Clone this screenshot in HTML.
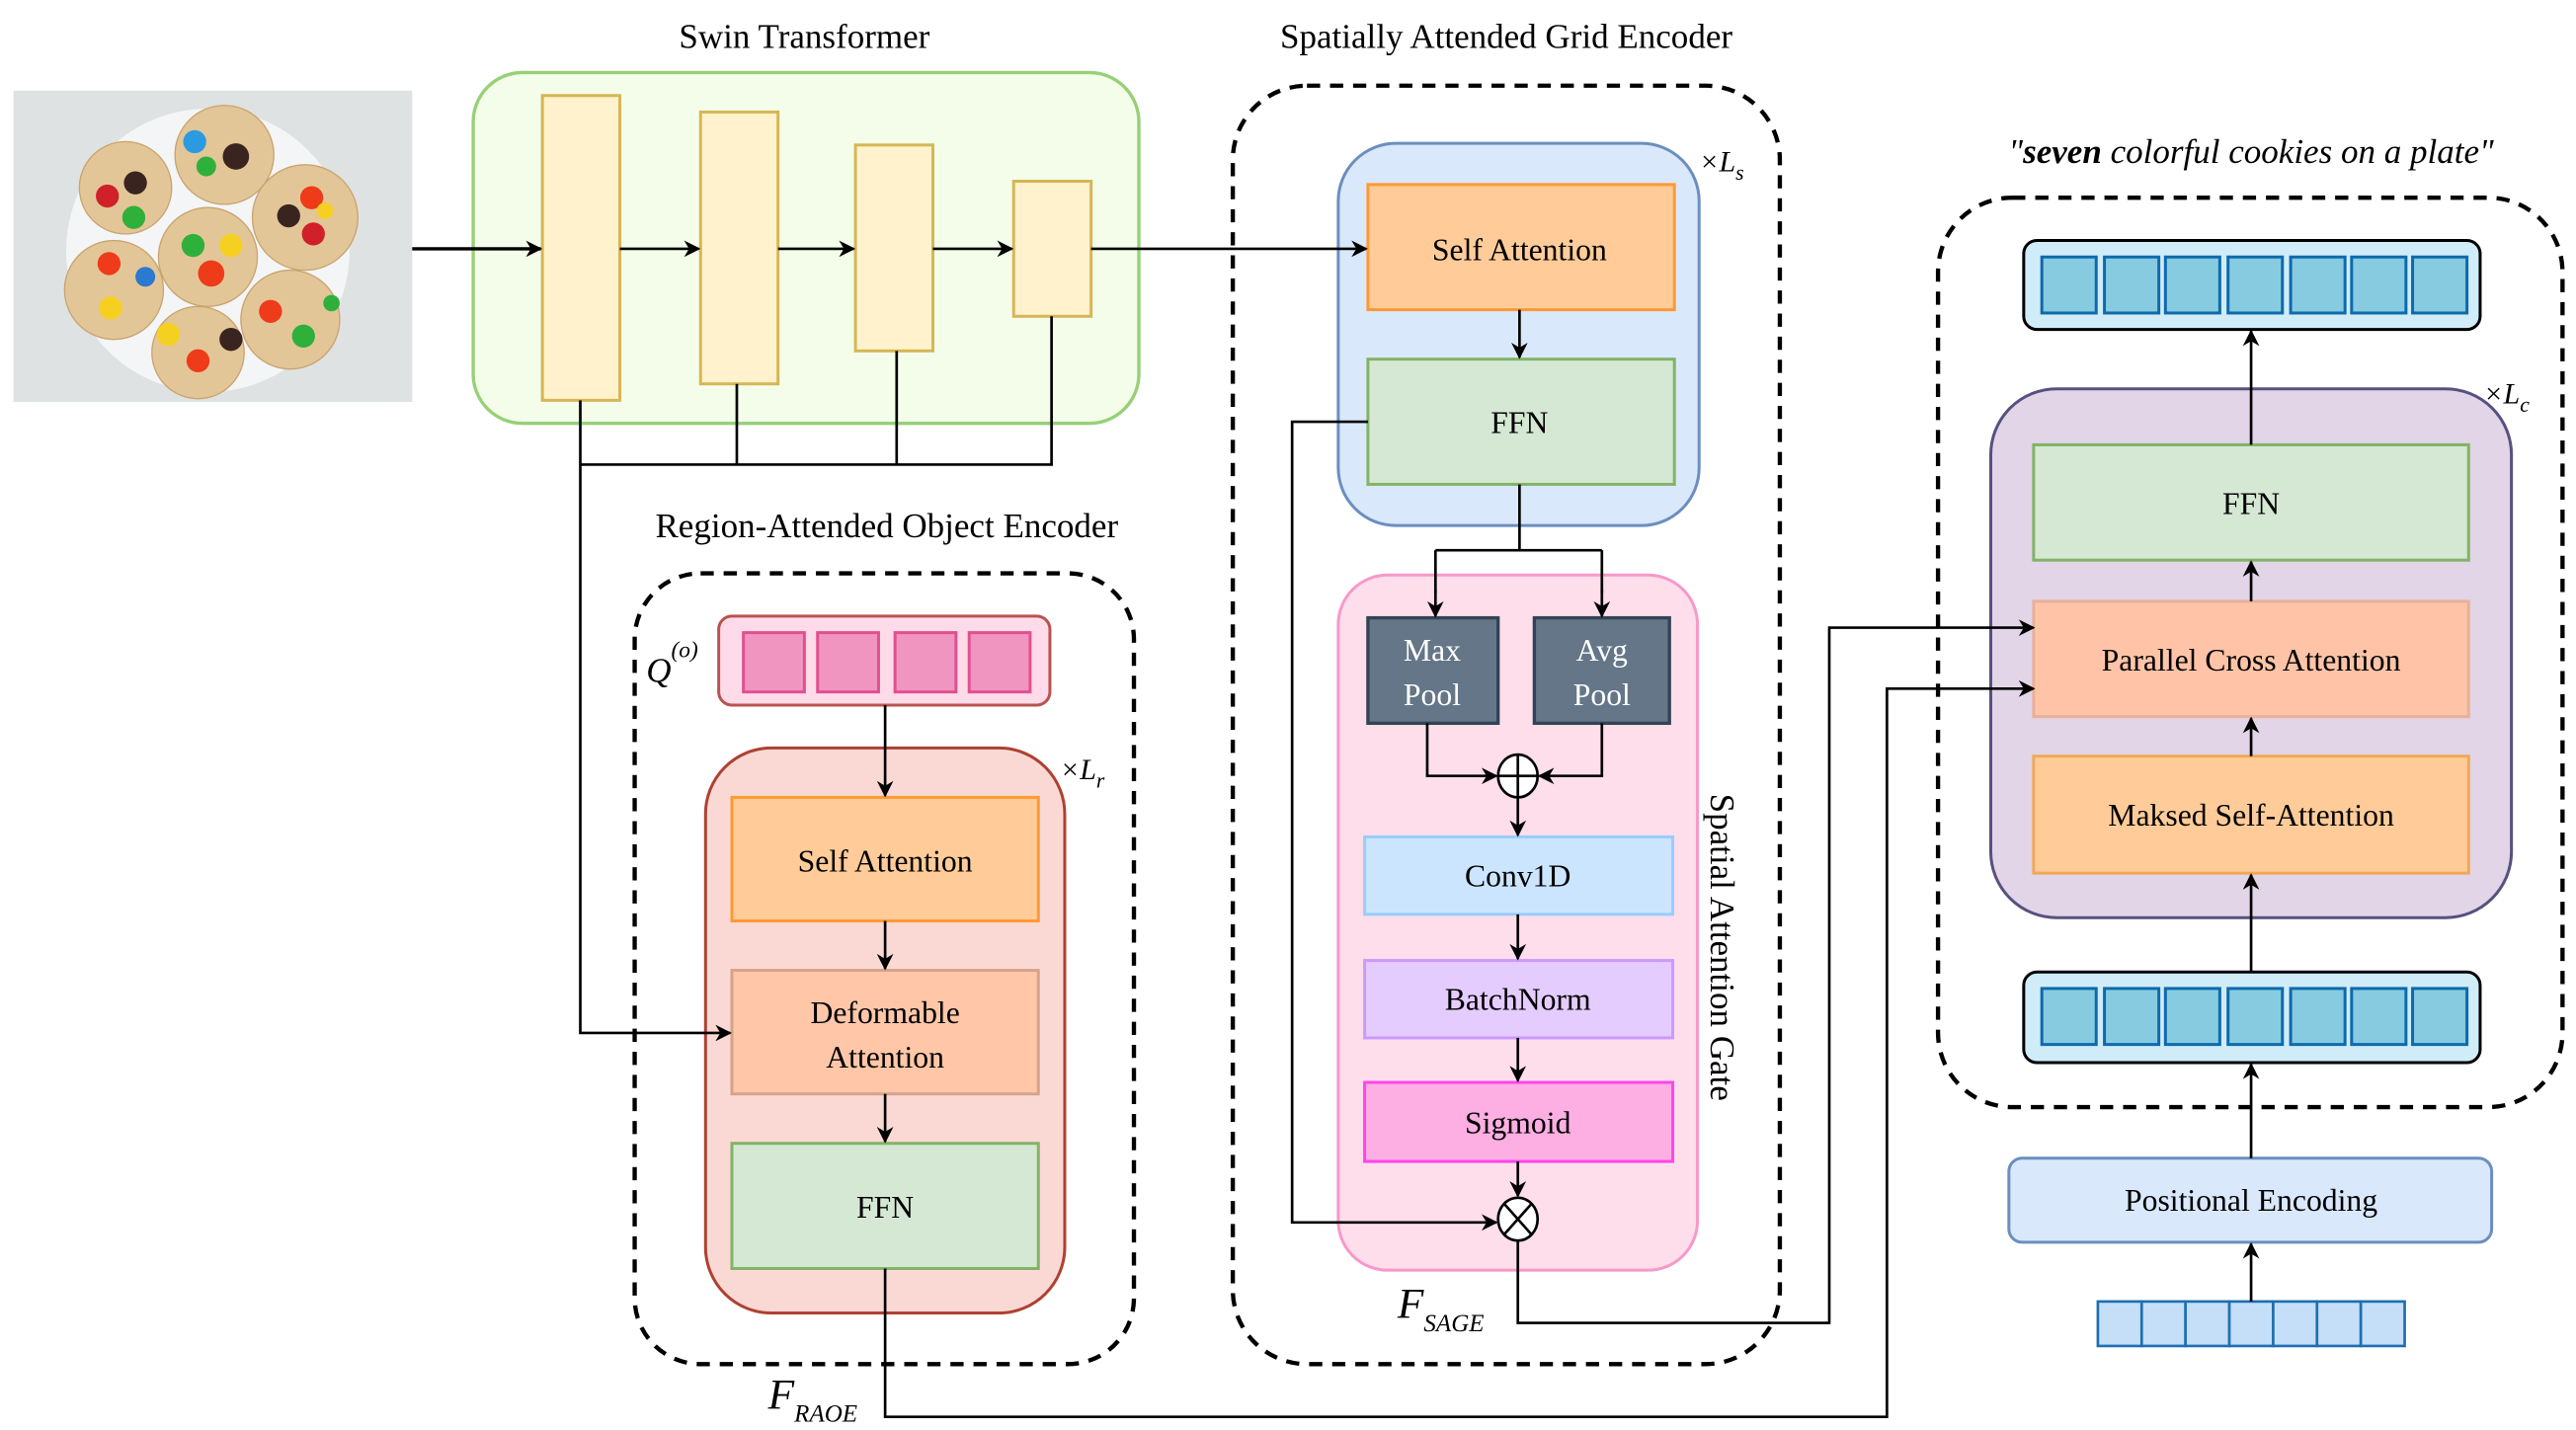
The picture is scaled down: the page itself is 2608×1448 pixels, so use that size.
<!DOCTYPE html>
<html><head><meta charset="utf-8"><style>html,body{margin:0;padding:0;background:#fff;}svg{display:block;}svg text{font-family:"Liberation Serif","DejaVu Serif",serif;}</style></head>
<body>
<svg xmlns="http://www.w3.org/2000/svg" width="2608" height="1448" viewBox="0 0 1563 868">
<defs>
<marker id="a" viewBox="0 0 10 10" refX="9" refY="5" markerWidth="10" markerHeight="10" markerUnits="userSpaceOnUse" orient="auto"><path d="M0,0 L10,5 L0,10 L3,5 Z" fill="#000" stroke="none"/></marker>
</defs>
<rect width="1563" height="868" fill="#fff"/>
<!-- image -->
<rect x="8" y="55" width="242" height="189" fill="#dfe2e3"/>
<circle cx="126" cy="152" r="86" fill="#f4f5f6"/>
<g fill="#e3c697" stroke="#c9a46e" stroke-width="0.8">
<circle cx="76" cy="114" r="28"/><circle cx="136" cy="94" r="30"/><circle cx="185" cy="132" r="32"/><circle cx="126" cy="156" r="30"/><circle cx="69" cy="176" r="30"/><circle cx="120" cy="214" r="28"/><circle cx="176" cy="194" r="30"/></g>
<g>
<circle cx="118" cy="86" r="7" fill="#2a9be0"/><circle cx="143" cy="95" r="8" fill="#3a2420"/><circle cx="125" cy="101" r="6" fill="#2fb03a"/>
<circle cx="82" cy="111" r="7" fill="#3a2420"/><circle cx="65" cy="119" r="7" fill="#d0202a"/><circle cx="81" cy="132" r="7" fill="#2fb03a"/>
<circle cx="189" cy="120" r="7" fill="#ee3b1a"/><circle cx="175" cy="131" r="7" fill="#3a2420"/><circle cx="190" cy="142" r="7" fill="#d0202a"/><circle cx="197" cy="128" r="5" fill="#f5d020"/>
<circle cx="117" cy="149" r="7" fill="#2fb03a"/><circle cx="140" cy="149" r="7" fill="#f5d020"/><circle cx="128" cy="166" r="8" fill="#ee3b1a"/>
<circle cx="66" cy="160" r="7" fill="#ee3b1a"/><circle cx="88" cy="168" r="6" fill="#2a7ad0"/><circle cx="67" cy="187" r="7" fill="#f5d020"/>
<circle cx="102" cy="203" r="7" fill="#f5d020"/><circle cx="140" cy="206" r="7" fill="#3a2420"/><circle cx="120" cy="219" r="7" fill="#ee3b1a"/>
<circle cx="164" cy="189" r="7" fill="#ee3b1a"/><circle cx="184" cy="204" r="7" fill="#2fb03a"/><circle cx="201" cy="184" r="5" fill="#2fb03a"/>
</g>
<!-- Swin -->
<text x="488" y="29" font-size="21" text-anchor="middle">Swin Transformer</text>
<rect x="287" y="44" width="404" height="213" rx="30" fill="#f3fde9" stroke="#97d077" stroke-width="2"/>
<g fill="#fff2cc" stroke="#d6b656" stroke-width="1.8">
<rect x="329" y="58" width="47" height="185"/><rect x="425" y="68" width="47" height="165"/><rect x="519" y="88" width="47" height="125"/><rect x="615" y="110" width="47" height="82"/></g>
<!-- SAGE -->
<text x="914" y="29" font-size="21" text-anchor="middle">Spatially Attended Grid Encoder</text>
<rect x="748" y="52" width="332" height="776" rx="45" fill="none" stroke="#000" stroke-width="2.6" stroke-dasharray="8,6"/>
<rect x="812" y="87" width="219" height="232" rx="35" fill="#dae8fc" stroke="#6c8ebf" stroke-width="1.8"/>
<text x="1031" y="104" font-size="18" font-style="italic">×L<tspan font-size="13" dy="5">s</tspan></text>
<rect x="830" y="112" width="186" height="76" fill="#ffcc99" stroke="#ff9933" stroke-width="1.8"/>
<text x="922" y="158" font-size="19" text-anchor="middle">Self Attention</text>
<rect x="830" y="218" width="186" height="76" fill="#d5e8d4" stroke="#82b366" stroke-width="1.8"/>
<text x="922" y="263" font-size="19" text-anchor="middle">FFN</text>
<rect x="812" y="349" width="218" height="422" rx="30" fill="#ffdeeb" stroke="#f799c8" stroke-width="1.8"/>
<rect x="830" y="375" width="79" height="64" fill="#647687" stroke="#314354" stroke-width="2"/>
<rect x="931" y="375" width="82" height="64" fill="#647687" stroke="#314354" stroke-width="2"/>
<text x="869" y="401" font-size="19" text-anchor="middle" fill="#fff">Max</text><text x="869" y="428" font-size="19" text-anchor="middle" fill="#fff">Pool</text>
<text x="972" y="401" font-size="19" text-anchor="middle" fill="#fff">Avg</text><text x="972" y="428" font-size="19" text-anchor="middle" fill="#fff">Pool</text>
<rect x="828" y="508" width="187" height="47" fill="#cce5ff" stroke="#99ccff" stroke-width="1.8"/>
<text x="921" y="538" font-size="19" text-anchor="middle">Conv1D</text>
<rect x="828" y="583" width="187" height="47" fill="#e5ccff" stroke="#cc99ff" stroke-width="1.8"/>
<text x="921" y="613" font-size="19" text-anchor="middle">BatchNorm</text>
<rect x="828" y="657" width="187" height="48" fill="#fdafe3" stroke="#ff44ee" stroke-width="1.8"/>
<text x="921" y="688" font-size="19" text-anchor="middle">Sigmoid</text>
<text transform="translate(1038,575) rotate(90)" font-size="21" text-anchor="middle">Spatial Attention Gate</text>
<text x="848" y="800" font-size="26" font-style="italic">F<tspan font-size="15" dy="8">SAGE</tspan></text>
<!-- RAOE -->
<text x="538" y="326" font-size="21" text-anchor="middle">Region-Attended Object Encoder</text>
<rect x="385" y="348" width="303" height="480" rx="40" fill="none" stroke="#000" stroke-width="2.6" stroke-dasharray="8,6"/>
<rect x="436" y="374" width="201" height="54" rx="8" fill="#ffdbe9" stroke="#b85450" stroke-width="1.8"/>
<g fill="#f095c0" stroke="#e0508f" stroke-width="1.8">
<rect x="451" y="384" width="37" height="36"/><rect x="496" y="384" width="37" height="36"/><rect x="543" y="384" width="37" height="36"/><rect x="588" y="384" width="37" height="36"/></g>
<text x="392" y="414" font-size="21" font-style="italic">Q<tspan font-size="14" dy="-15">(o)</tspan></text>
<rect x="428" y="454" width="218" height="343" rx="40" fill="#fad9d5" stroke="#ae4132" stroke-width="1.8"/>
<text x="643" y="473" font-size="18" font-style="italic">×L<tspan font-size="13" dy="5">r</tspan></text>
<rect x="444" y="484" width="186" height="75" fill="#ffcc99" stroke="#ff9933" stroke-width="1.8"/>
<text x="537" y="529" font-size="19" text-anchor="middle">Self Attention</text>
<rect x="444" y="589" width="186" height="75" fill="#ffc7a8" stroke="#d6a38a" stroke-width="1.8"/>
<text x="537" y="621" font-size="19" text-anchor="middle">Deformable</text><text x="537" y="648" font-size="19" text-anchor="middle">Attention</text>
<rect x="444" y="694" width="186" height="76" fill="#d5e8d4" stroke="#82b366" stroke-width="1.8"/>
<text x="537" y="739" font-size="19" text-anchor="middle">FFN</text>
<text x="466" y="855" font-size="26" font-style="italic">F<tspan font-size="15" dy="8">RAOE</tspan></text>
<!-- right -->
<text x="1366" y="99" font-size="21" font-style="italic" text-anchor="middle">"<tspan font-weight="bold">seven</tspan> colorful cookies on a plate"</text>
<rect x="1176" y="120" width="379" height="552" rx="45" fill="none" stroke="#000" stroke-width="2.6" stroke-dasharray="8,6"/>
<rect x="1228" y="146" width="277" height="54" rx="8" fill="#d0ecf8" stroke="#000" stroke-width="1.8"/>
<g fill="#87cbe0" stroke="#0e6aad" stroke-width="1.8">
<rect x="1239" y="156" width="33" height="34"/><rect x="1277" y="156" width="33" height="34"/><rect x="1314" y="156" width="33" height="34"/><rect x="1352" y="156" width="33" height="34"/><rect x="1390" y="156" width="33" height="34"/><rect x="1427" y="156" width="33" height="34"/><rect x="1464" y="156" width="33" height="34"/></g>
<rect x="1208" y="236" width="316" height="321" rx="40" fill="#e1d5e7" stroke="#56517e" stroke-width="1.8"/>
<text x="1507" y="245" font-size="18" font-style="italic">×L<tspan font-size="13" dy="5">c</tspan></text>
<rect x="1234" y="270" width="264" height="70" fill="#d5e8d4" stroke="#82b366" stroke-width="1.8"/>
<text x="1366" y="312" font-size="19" text-anchor="middle">FFN</text>
<rect x="1234" y="365" width="264" height="70" fill="#ffc4a7" stroke="#e9b09a" stroke-width="1.8"/>
<text x="1366" y="407" font-size="19" text-anchor="middle">Parallel Cross Attention</text>
<rect x="1234" y="459" width="264" height="71" fill="#ffcc99" stroke="#f0a858" stroke-width="1.8"/>
<text x="1366" y="501" font-size="19" text-anchor="middle">Maksed Self-Attention</text>
<rect x="1228" y="590" width="277" height="55" rx="8" fill="#d0ecf8" stroke="#000" stroke-width="1.8"/>
<g fill="#87cbe0" stroke="#0e6aad" stroke-width="1.8">
<rect x="1239" y="600" width="33" height="34"/><rect x="1277" y="600" width="33" height="34"/><rect x="1314" y="600" width="33" height="34"/><rect x="1352" y="600" width="33" height="34"/><rect x="1390" y="600" width="33" height="34"/><rect x="1427" y="600" width="33" height="34"/><rect x="1464" y="600" width="33" height="34"/></g>
<rect x="1219" y="703" width="293" height="51" rx="8" fill="#dae8fc" stroke="#6c8ebf" stroke-width="1.8"/>
<text x="1366" y="735" font-size="19" text-anchor="middle">Positional Encoding</text>
<g fill="#c5dff8" stroke="#1f6fb0" stroke-width="1.6">
<rect x="1273" y="790" width="26.6" height="27"/><rect x="1299.6" y="790" width="26.6" height="27"/><rect x="1326.2" y="790" width="26.6" height="27"/><rect x="1352.8" y="790" width="26.6" height="27"/><rect x="1379.4" y="790" width="26.6" height="27"/><rect x="1406" y="790" width="26.6" height="27"/><rect x="1432.6" y="790" width="26.6" height="27"/></g>
<!-- connectors on top -->
<g stroke="#000" stroke-width="1.6" fill="none">
<line x1="250" y1="151" x2="328" y2="151" marker-end="url(#a)" stroke-width="2"/>
<line x1="376" y1="151" x2="424" y2="151" marker-end="url(#a)"/>
<line x1="472" y1="151" x2="518" y2="151" marker-end="url(#a)"/>
<line x1="566" y1="151" x2="614" y2="151" marker-end="url(#a)"/>
<line x1="662" y1="151" x2="829" y2="151" marker-end="url(#a)"/>
<path d="M352,243 V627 H443" marker-end="url(#a)"/>
<path d="M447,233 V282 M544,213 V282 M638,192 V282 H352"/>
<line x1="922" y1="188" x2="922" y2="217" marker-end="url(#a)"/>
<path d="M922,294 V334 M871,334 H972 M871,334 V360 M972,334 V360"/>
<line x1="871" y1="358" x2="871" y2="374" marker-end="url(#a)"/>
<line x1="972" y1="358" x2="972" y2="374" marker-end="url(#a)"/>
<path d="M866,439 V471 H908" marker-end="url(#a)"/>
<path d="M972,439 V471 H934" marker-end="url(#a)"/>
<ellipse cx="921" cy="471" rx="12" ry="13" fill="#fff"/>
<path d="M909,471 H933 M921,458 V484"/>
<line x1="921" y1="484" x2="921" y2="507" marker-end="url(#a)"/>
<line x1="921" y1="555" x2="921" y2="582" marker-end="url(#a)"/>
<line x1="921" y1="630" x2="921" y2="656" marker-end="url(#a)"/>
<line x1="921" y1="705" x2="921" y2="726" marker-end="url(#a)"/>
<ellipse cx="921" cy="740" rx="12" ry="13" fill="#fff"/>
<path d="M913,731 L929,749 M929,731 L913,749"/>
<path d="M830,256 H784 V742 H908" marker-end="url(#a)"/>
<path d="M921,753 V803 H1110 V381 H1234" marker-end="url(#a)"/>
<path d="M537,770 V860 H1145 V418 H1234" marker-end="url(#a)"/>
<line x1="537" y1="428" x2="537" y2="483" marker-end="url(#a)"/>
<line x1="537" y1="559" x2="537" y2="588" marker-end="url(#a)"/>
<line x1="537" y1="664" x2="537" y2="693" marker-end="url(#a)"/>
<line x1="1366" y1="790" x2="1366" y2="755" marker-end="url(#a)"/>
<line x1="1366" y1="703" x2="1366" y2="646" marker-end="url(#a)"/>
<line x1="1366" y1="590" x2="1366" y2="531" marker-end="url(#a)"/>
<line x1="1366" y1="459" x2="1366" y2="436" marker-end="url(#a)"/>
<line x1="1366" y1="365" x2="1366" y2="341" marker-end="url(#a)"/>
<line x1="1366" y1="270" x2="1366" y2="201" marker-end="url(#a)"/>
</g>
</svg>
</body></html>
